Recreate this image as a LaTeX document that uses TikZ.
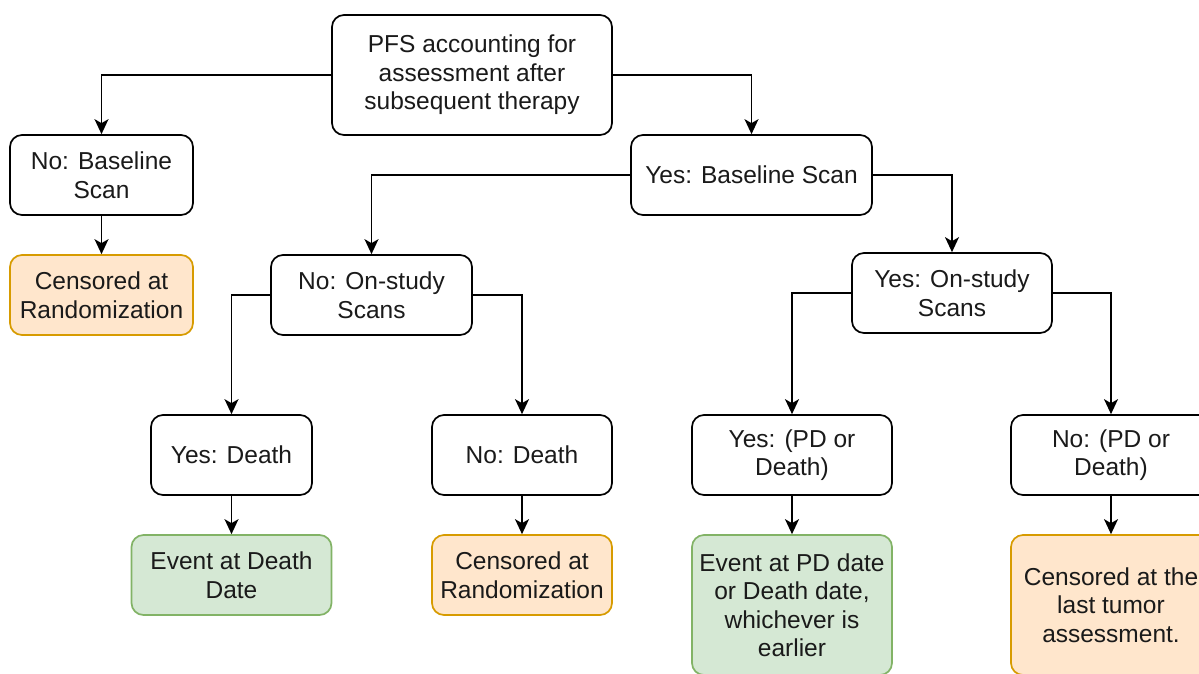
\documentclass[tikz,border=0pt]{standalone}
\usepackage{fontspec}
\setmainfont{Liberation Sans}
\usetikzlibrary{arrows.meta}
\definecolor{greenfill}{HTML}{D5E8D4}
\definecolor{greendraw}{HTML}{82B366}
\definecolor{orangefill}{HTML}{FFE6CC}
\definecolor{orangedraw}{HTML}{D79B00}
\definecolor{textcol}{HTML}{1A1A1A}
\tikzset{
  box/.style={draw=black, line width=1.7pt, rounded corners=12pt, fill=white,
    align=center, inner sep=0pt, text=textcol,
    font=\fontsize{24.5}{28.5}\selectfont},
  greenbox/.style={box, draw=greendraw, fill=greenfill},
  orangebox/.style={box, draw=orangedraw, fill=orangefill},
  arr/.style={draw=black, line width=1.7pt, -{Stealth[length=15pt,width=14pt,inset=4pt]}}
}
\begin{document}
\begin{tikzpicture}[x=1pt,y=-1pt]
\useasboundingbox (0,0) rectangle (1199,673);
\clip (0,0) rectangle (1199,673);
\fill[white] (0,0) rectangle (1199,673);

\node[box, minimum width=280pt, minimum height=120pt] (root) at (472,75)
  {PFS accounting for\\assessment after\\subsequent therapy};
\node[box, minimum width=183pt, minimum height=80pt] (nobase) at (101.5,175)
  {No: Baseline\\Scan};
\node[orangebox, minimum width=183pt, minimum height=80pt] (cens1) at (101.5,295)
  {Censored at\\Randomization};
\node[box, minimum width=241pt, minimum height=80pt] (yesbase) at (751.5,175)
  {Yes: Baseline Scan};
\node[box, minimum width=201pt, minimum height=80pt] (noscan) at (371.5,295)
  {No: On-study\\Scans};
\node[box, minimum width=200pt, minimum height=80pt] (yesscan) at (952,293)
  {Yes: On-study\\Scans};
\node[box, minimum width=161pt, minimum height=80pt] (yesdeath) at (231.5,455)
  {Yes: Death};
\node[box, minimum width=180pt, minimum height=80pt] (nodeath) at (522,455)
  {No: Death};
\node[box, minimum width=200pt, minimum height=80pt] (yespd) at (792,455)
  {Yes: (PD or\\Death)};
\node[box, minimum width=200pt, minimum height=80pt] (nopd) at (1111,455)
  {No: (PD or\\Death)};
\node[greenbox, minimum width=200pt, minimum height=80pt] (evdeath) at (231.5,575)
  {Event at Death\\Date};
\node[orangebox, minimum width=180pt, minimum height=80pt] (cens2) at (522,575)
  {Censored at\\Randomization};
\node[greenbox, minimum width=200pt, minimum height=140pt] (evpd) at (792,605)
  {Event at PD date\\or Death date,\\whichever is\\earlier};
\node[orangebox, minimum width=200pt, minimum height=140pt] (cens3) at (1111,605)
  {Censored at the\\last tumor\\assessment.};

\draw[arr] (root.west) -| (nobase.north);
\draw[arr] (root.east) -| (yesbase.north);
\draw[arr] (nobase.south) -- (cens1.north);
\draw[arr] (yesbase.west) -| (noscan.north);
\draw[arr] (yesbase.east) -| (yesscan.north);
\draw[arr] (noscan.west) -| (yesdeath.north);
\draw[arr] (noscan.east) -| (nodeath.north);
\draw[arr] (yesscan.west) -| (yespd.north);
\draw[arr] (yesscan.east) -| (nopd.north);
\draw[arr] (yesdeath.south) -- (evdeath.north);
\draw[arr] (nodeath.south) -- (cens2.north);
\draw[arr] (yespd.south) -- (evpd.north);
\draw[arr] (nopd.south) -- (cens3.north);
\end{tikzpicture}
\end{document}
